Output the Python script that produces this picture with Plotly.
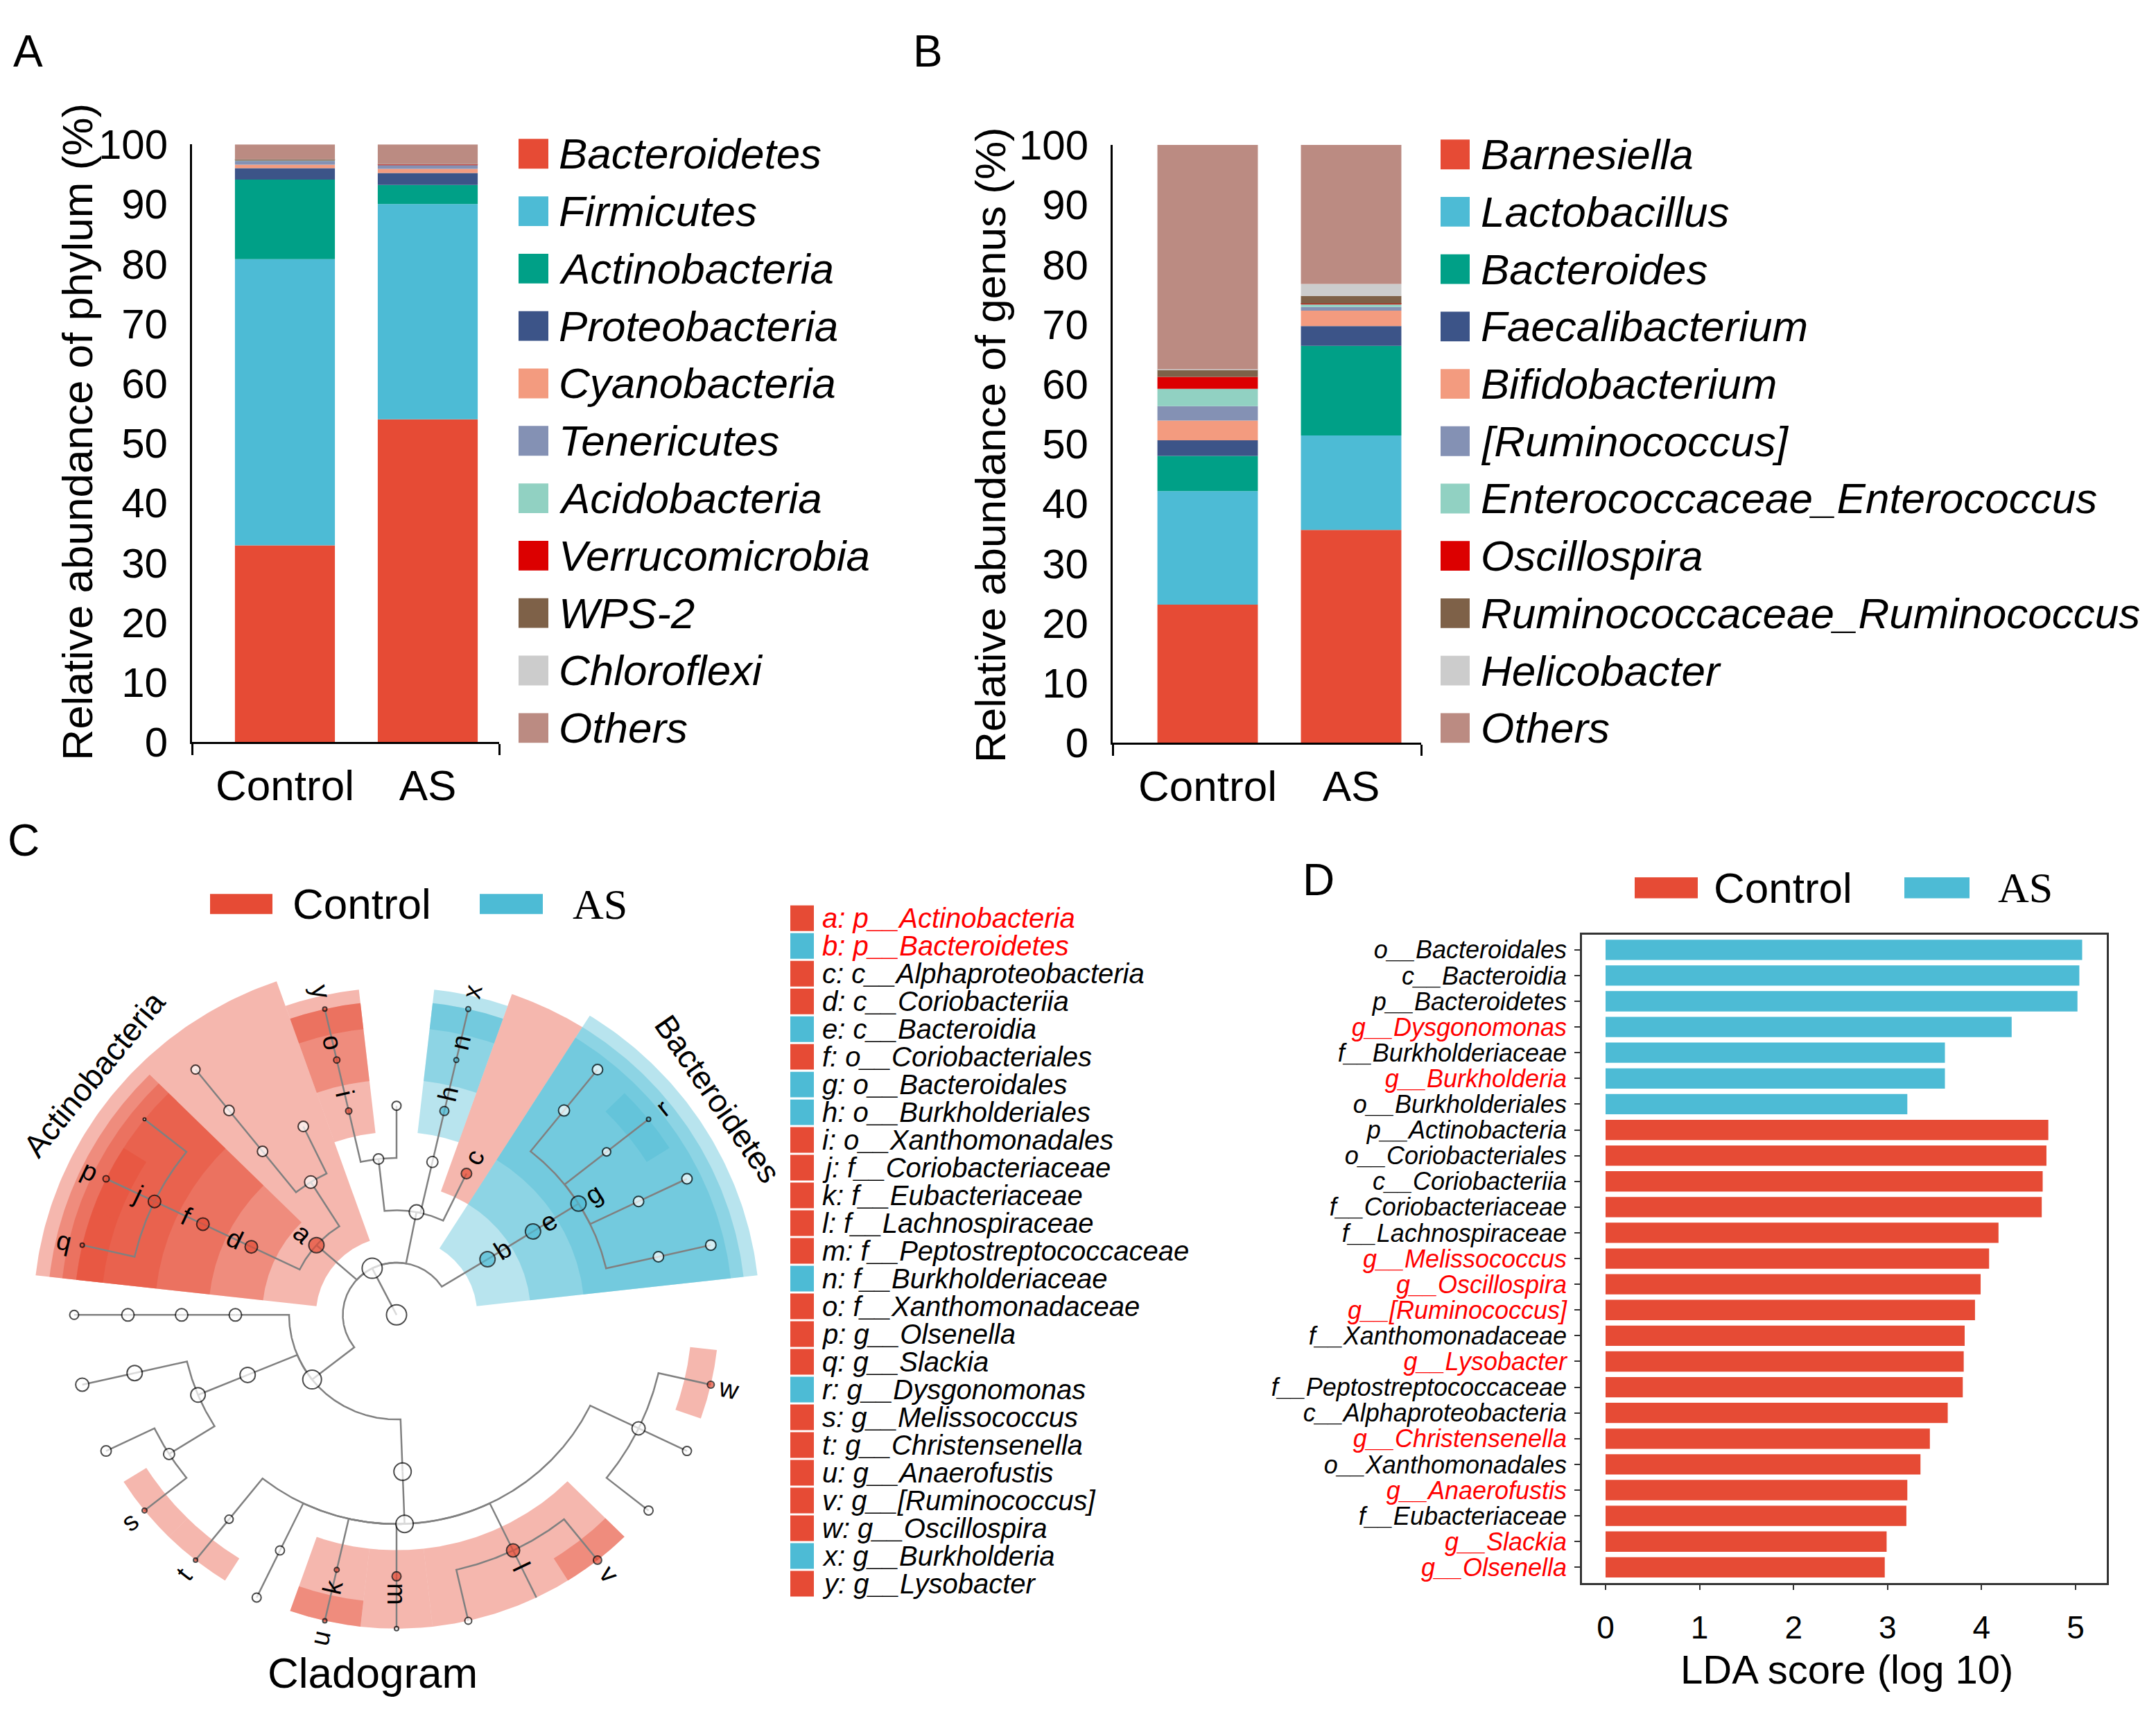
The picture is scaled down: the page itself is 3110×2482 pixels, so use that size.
import numpy as np
import plotly.graph_objects as go

W, H = 3110, 2482
SANS = "Liberation Sans, Arial, sans-serif"
SERIF = "Liberation Serif, Times New Roman, serif"
RED = "#E64B35"
BLUE = "#4DBBD5"
LABEL_RED = "#FF0000"

# ---------------- Panel A / B data ----------------
samples = ["Control", "AS"]
taxa_colors = ["#E64B35", "#4DBBD5", "#00A087", "#3C5488", "#F39B7F", "#8491B4",
               "#91D1C2", "#DC0000", "#7E6148", "#CCCCCC", "#BB8B82"]

phylum_names = ["Bacteroidetes", "Firmicutes", "Actinobacteria", "Proteobacteria", "Cyanobacteria",
                "Tenericutes", "Acidobacteria", "Verrucomicrobia", "WPS-2", "Chloroflexi", "Others"]
phylum_control = [32.9, 47.9, 13.3, 1.9, 0.6, 0.7, 0.05, 0.05, 0.05, 0.05, 2.5]
phylum_as = [54.0, 36.0, 3.2, 2.0, 0.7, 0.65, 0.05, 0.05, 0.05, 0.05, 3.25]

genus_names = ["Barnesiella", "Lactobacillus", "Bacteroides", "Faecalibacterium", "Bifidobacterium",
               "[Ruminococcus]", "Enterococcaceae_Enterococcus", "Oscillospira",
               "Ruminococcaceae_Ruminococcus", "Helicobacter", "Others"]
genus_control = [23.1, 19.0, 5.9, 2.6, 3.3, 2.4, 2.9, 2.0, 1.2, 0.1, 37.5]
genus_as = [35.6, 15.8, 15.0, 3.3, 2.6, 0.6, 0.5, 0.05, 1.3, 2.0, 23.25]

# ---------------- Panel D data ----------------
lda_taxa = ["o__Bacteroidales", "c__Bacteroidia", "p__Bacteroidetes", "g__Dysgonomonas",
            "f__Burkholderiaceae", "g__Burkholderia", "o__Burkholderiales", "p__Actinobacteria",
            "o__Coriobacteriales", "c__Coriobacteriia", "f__Coriobacteriaceae", "f__Lachnospiraceae",
            "g__Melissococcus", "g__Oscillospira", "g__[Ruminococcus]", "f__Xanthomonadaceae",
            "g__Lysobacter", "f__Peptostreptococcaceae", "c__Alphaproteobacteria", "g__Christensenella",
            "o__Xanthomonadales", "g__Anaerofustis", "f__Eubacteriaceae", "g__Slackia", "g__Olsenella"]
lda_score = [5.07, 5.04, 5.02, 4.32, 3.61, 3.61, 3.21, 4.71, 4.69, 4.65, 4.64, 4.18, 4.08, 3.99,
             3.93, 3.82, 3.81, 3.80, 3.64, 3.45, 3.35, 3.21, 3.20, 2.99, 2.97]
lda_group = ["AS"] * 7 + ["Control"] * 18
lda_ticks = [0, 1, 2, 3, 4, 5]

# ---------------- Panel C data (cladogram) ----------------
clado_node = ["Root", "Bacteria",
              "p__Bacteroidetes", "c__Bacteroidia", "o__Bacteroidales",
              "f__Bd1", "g__Bd1", "f__Bd2", "g__Bd2", "f__Bd3", "g__Dysgonomonas", "f__Bd4", "g__Bd4",
              "p__Proteobacteria", "c__Alphaproteobacteria", "c__Betaproteobacteria", "o__Burkholderiales",
              "f__Burkholderiaceae", "g__Burkholderia",
              "c__Gammaproteobacteria", "o__Gp1", "o__Xanthomonadales", "f__Xanthomonadaceae", "g__Lysobacter",
              "p__Actinobacteria", "c__Actinobacteria", "o__Ac1", "o__Actinomycetales", "f__Ac2", "g__Ac2",
              "c__Coriobacteriia", "o__Coriobacteriales", "f__Coriobacteriaceae", "g__Co1", "g__Olsenella", "g__Slackia",
              "p__Firmicutes", "c__Erysipelotrichi", "o__Erysipelotrichales", "f__Erysipelotrichaceae", "g__Er1",
              "c__Bacilli", "o__Lactobacillales", "f__Lactobacillaceae", "g__Lactobacillus",
              "f__Enterococcaceae", "g__Enterococcus", "g__Melissococcus",
              "c__Clostridia", "o__Clostridiales", "f__Christensenellaceae", "g__Christensenella", "f__Cl2", "g__Cl2",
              "f__Eubacteriaceae", "g__Anaerofustis", "f__Peptostreptococcaceae", "g__Pe1",
              "f__Lachnospiraceae", "g__La1", "g__La2", "g__[Ruminococcus]",
              "f__Ruminococcaceae", "g__Ru1", "g__Ru2", "g__Oscillospira"]
clado_parent = ["", "Root",
                "Bacteria", "p__Bacteroidetes", "c__Bacteroidia",
                "o__Bacteroidales", "f__Bd1", "o__Bacteroidales", "f__Bd2", "o__Bacteroidales", "f__Bd3",
                "o__Bacteroidales", "f__Bd4",
                "Bacteria", "p__Proteobacteria", "p__Proteobacteria", "c__Betaproteobacteria",
                "o__Burkholderiales", "f__Burkholderiaceae",
                "p__Proteobacteria", "c__Gammaproteobacteria", "c__Gammaproteobacteria", "o__Xanthomonadales",
                "f__Xanthomonadaceae",
                "Bacteria", "p__Actinobacteria", "c__Actinobacteria", "c__Actinobacteria", "o__Actinomycetales",
                "f__Ac2",
                "p__Actinobacteria", "c__Coriobacteriia", "o__Coriobacteriales", "f__Coriobacteriaceae",
                "f__Coriobacteriaceae", "f__Coriobacteriaceae",
                "Bacteria", "p__Firmicutes", "c__Erysipelotrichi", "o__Erysipelotrichales", "f__Erysipelotrichaceae",
                "p__Firmicutes", "c__Bacilli", "o__Lactobacillales", "f__Lactobacillaceae",
                "o__Lactobacillales", "f__Enterococcaceae", "f__Enterococcaceae",
                "p__Firmicutes", "c__Clostridia", "o__Clostridiales", "f__Christensenellaceae", "o__Clostridiales",
                "f__Cl2",
                "o__Clostridiales", "f__Eubacteriaceae", "o__Clostridiales", "f__Peptostreptococcaceae",
                "o__Clostridiales", "f__Lachnospiraceae", "f__Lachnospiraceae", "f__Lachnospiraceae",
                "o__Clostridiales", "f__Ruminococcaceae", "f__Ruminococcaceae", "f__Ruminococcaceae"]
clado_abundance = [14.5, 14.5,
                   11, 11, 11,
                   7.5, 7.5, 7.5, 7.5, 6, 3, 8, 7.5,
                   10.5, 7.5, 8, 6.5, 3.5, 3.5,
                   7.5, 6.5, 4.5, 4.5, 3,
                   11, 9, 7.5, 7.5, 7.5, 6.5,
                   9, 9, 9, 2, 4.5, 3,
                   13.5, 9, 9, 9, 6.5,
                   11, 10.5, 11, 9.5, 8, 7.5, 3.5,
                   12.5, 12.5, 6, 3, 6.5, 6.5,
                   3.5, 3, 6.5, 3,
                   9.5, 5, 0, 6,
                   9.5, 6.5, 6.5, 5]

sig_letter = list("abcdefghijklmnopqrstuvwxy")
sig_taxon = ["p__Actinobacteria", "p__Bacteroidetes", "c__Alphaproteobacteria", "c__Coriobacteriia",
             "c__Bacteroidia", "o__Coriobacteriales", "o__Bacteroidales", "o__Burkholderiales",
             "o__Xanthomonadales", "f__Coriobacteriaceae", "f__Eubacteriaceae", "f__Lachnospiraceae",
             "f__Peptostreptococcaceae", "f__Burkholderiaceae", "f__Xanthomonadaceae", "g__Olsenella",
             "g__Slackia", "g__Dysgonomonas", "g__Melissococcus", "g__Christensenella", "g__Anaerofustis",
             "g__[Ruminococcus]", "g__Oscillospira", "g__Burkholderia", "g__Lysobacter"]
sig_group = ["Control", "AS", "Control", "Control", "AS", "Control", "AS", "AS", "Control", "Control",
             "Control", "Control", "Control", "AS", "Control", "Control", "Control", "AS", "Control",
             "Control", "Control", "Control", "Control", "AS", "Control"]
sig_highlight = ["a", "b"]

GROUP_COLOR = {"Control": RED, "AS": BLUE}
GROUP_FILL = {"Control": "rgba(230,75,53,0.40)", "AS": "rgba(77,187,213,0.40)"}

fig = go.Figure()


def px_x(x):
    return x / W


def px_y(y):
    return 1 - y / H


# ---------------- Panel A & B stacked bars ----------------
def stacked(names, ctrl, asv, xa, ya):
    base = np.zeros(2)
    for nm, vc, va, col in zip(names, ctrl, asv, taxa_colors):
        vals = np.array([vc, va], dtype=float)
        fig.add_trace(go.Bar(x=[0, 1], y=vals.tolist(), base=base.tolist(), width=0.70, name=nm,
                             marker=dict(color=col, line=dict(width=0)), xaxis=xa, yaxis=ya,
                             showlegend=False, hoverinfo="skip"))
        base = base + vals


stacked(phylum_names, phylum_control, phylum_as, "x", "y")
stacked(genus_names, genus_control, genus_as, "x2", "y2")

# ---------------- Panel D LDA bars ----------------
ypos = np.arange(len(lda_taxa))
for g in ["AS", "Control"]:
    sel = [i for i in range(len(lda_taxa)) if lda_group[i] == g]
    fig.add_trace(go.Bar(orientation="h", y=ypos[sel].tolist(), x=[lda_score[i] for i in sel], width=0.79,
                         marker=dict(color=GROUP_COLOR[g], line=dict(width=0)), xaxis="x4", yaxis="y4",
                         showlegend=False, hoverinfo="skip"))
lda_ticktext = []
for t in lda_taxa:
    if t.startswith("g__"):
        lda_ticktext.append("<i><span style='color:%s'>%s</span></i>" % (LABEL_RED, t))
    else:
        lda_ticktext.append("<i>%s</i>" % t)

# ---------------- Panel C cladogram ----------------
n = len(clado_node)
idx = {nm: i for i, nm in enumerate(clado_node)}
children = {i: [] for i in range(n)}
par = [None] * n
for i, p in enumerate(clado_parent):
    if p:
        par[i] = idx[p]
        children[idx[p]].append(i)
LEVEL_OF = {"p": 2, "c": 3, "o": 4, "f": 5, "g": 6}
level = []
for nm in clado_node:
    if nm == "Root":
        level.append(0)
    elif nm == "Bacteria":
        level.append(1)
    else:
        level.append(LEVEL_OF[nm[0]])
leaves = [i for i in range(n) if not children[i]]
N_SLOTS = len(leaves) + 1
slot_deg = 360.0 / N_SLOTS
slot = {leaf: k + 1 for k, leaf in enumerate(leaves)}
ang = [None] * n


def calc_ang(i):
    if i in slot:
        ang[i] = slot[i] * slot_deg
    else:
        ang[i] = float(np.mean([calc_ang(c) for c in children[i]]))
    return ang[i]


calc_ang(0)


def leaf_range(i):
    if i in slot:
        return ang[i], ang[i]
    rs = [leaf_range(c) for c in children[i]]
    return min(r[0] for r in rs), max(r[1] for r in rs)


def pxy(r, th):
    t = np.deg2rad(np.asarray(th, dtype=float))
    return (np.asarray(r, dtype=float) * np.cos(t)), (np.asarray(r, dtype=float) * np.sin(t))


# outer radius of highlighted sector by level (in level units)
OUTER = {2: 6.76, 3: 6.50, 4: 6.26, 5: 6.00, 6: 6.00}
for tx, grp in zip(sig_taxon, sig_group):
    i = idx[tx]
    lo, hi = leaf_range(i)
    t0, t1 = lo - slot_deg / 2, hi + slot_deg / 2
    r0, r1 = level[i] - 0.5, OUTER[level[i]]
    ts = np.linspace(t0, t1, 80)
    xo, yo = pxy(np.full_like(ts, r1), ts)
    xi, yi = pxy(np.full_like(ts, r0), ts[::-1])
    xs = np.concatenate([xo, xi, xo[:1]])
    ys = np.concatenate([yo, yi, yo[:1]])
    fig.add_trace(go.Scatter(x=xs, y=ys, mode="lines", fill="toself", fillcolor=GROUP_FILL[grp],
                             line=dict(width=0), xaxis="x3", yaxis="y3", showlegend=False, hoverinfo="skip"))

ex, ey = [], []
for i in range(n):
    p = par[i]
    if p is None:
        continue
    rc, rp = level[i], level[p]
    x1, y1 = pxy([rc, rp], [ang[i], ang[i]])
    ex += list(x1)
    ey += list(y1)
    if rp > 0:
        npts = int(abs(ang[p] - ang[i]) * 2) + 2
        ts = np.linspace(ang[i], ang[p], npts)
        x2, y2 = pxy(np.full_like(ts, rp), ts)
        ex += list(x2)
        ey += list(y2)
    ex.append(None)
    ey.append(None)
fig.add_trace(go.Scatter(x=ex, y=ey, mode="lines", line=dict(color="#808080", width=2.5),
                         xaxis="x3", yaxis="y3", showlegend=False, hoverinfo="skip"))

sig_map = {tx: (lt, g) for lt, tx, g in zip(sig_letter, sig_taxon, sig_group)}
nx, ny, ns, nc = [], [], [], []
for i in range(n):
    if clado_abundance[i] <= 0:
        continue
    xx, yy = pxy(level[i], ang[i])
    nx.append(float(xx))
    ny.append(float(yy))
    ns.append(2 * clado_abundance[i])
    nc.append(GROUP_COLOR[sig_map[clado_node[i]][1]] if clado_node[i] in sig_map else "white")
fig.add_trace(go.Scatter(x=nx, y=ny, mode="markers",
                         marker=dict(size=ns, color=nc, line=dict(color="black", width=2)),
                         xaxis="x3", yaxis="y3", showlegend=False, hoverinfo="skip"))

annotations = []


def letter_rot(th):
    th = th % 360
    if th <= 90:
        return th
    if th < 270:
        return th - 180
    return th - 360


for tx, (lt, g) in sig_map.items():
    i = idx[tx]
    xx, yy = pxy(level[i] + 0.34, ang[i])
    annotations.append(dict(x=float(xx), y=float(yy), xref="x3", yref="y3", text=lt, showarrow=False,
                            font=dict(family=SANS, size=38, color="black"), textangle=-letter_rot(ang[i]),
                            xanchor="center", yanchor="middle"))
    if level[i] == 2:
        la = ang[i] + 2.5
        xx, yy = pxy(7.27, la)
        annotations.append(dict(x=float(xx), y=float(yy), xref="x3", yref="y3", text=tx[3:], showarrow=False,
                                font=dict(family=SANS, size=46, color="black"), textangle=90 - la,
                                xanchor="center", yanchor="middle"))

# ---------------- legends (overlay axis in pixel units) ----------------
def swatches(x0, widths, ycs, heights, colors):
    fig.add_trace(go.Bar(orientation="h", base=x0, x=widths, y=ycs, width=heights,
                         marker=dict(color=colors, line=dict(width=0)), xaxis="x5", yaxis="y5",
                         showlegend=False, hoverinfo="skip"))


def vlegend(names, colors, sw_left, sw_w, sw_h, y_first, y_step, text_x, size, italic=True, text_colors=None):
    ycs = [y_first + k * y_step for k in range(len(names))]
    swatches([sw_left] * len(names), [sw_w] * len(names), ycs, [sw_h] * len(names), colors)
    for k, nm in enumerate(names):
        tc = text_colors[k] if text_colors else "black"
        annotations.append(dict(x=text_x, y=ycs[k], xref="x5", yref="y5", text=("<i>%s</i>" % nm) if italic else nm,
                                showarrow=False, xanchor="left", yanchor="middle",
                                font=dict(family=SANS, size=size, color=tc)))


vlegend(phylum_names, taxa_colors, 748, 43, 44, 194, 85.1, 804, 62)
vlegend(genus_names, taxa_colors, 2078, 42, 44, 195, 85.0, 2134, 62)
clado_leg_names = ["%s: %s" % (lt, tx) for lt, tx in zip(sig_letter, sig_taxon)]
clado_leg_tc = [LABEL_RED if lt in sig_highlight else "black" for lt in sig_letter]
vlegend(clado_leg_names, [GROUP_COLOR[g] for g in sig_group], 1140, 34, 38, 1327, 41.1, 1184, 40,
        text_colors=clado_leg_tc)

groups_order = ["Control", "AS"]


def hlegend(sw_lefts, sw_ws, yc, sw_h, text_xs):
    swatches(sw_lefts, sw_ws, [yc] * len(groups_order), [sw_h] * len(groups_order),
             [GROUP_COLOR[g] for g in groups_order])
    for g, tx in zip(groups_order, text_xs):
        annotations.append(dict(x=tx, y=yc, xref="x5", yref="y5", text=g, showarrow=False,
                                xanchor="left", yanchor="middle",
                                font=dict(family=SANS if g == "Control" else SERIF, size=62, color="black")))


hlegend([303, 692], [90, 91], 1306, 30, [420, 824])
hlegend([2358, 2747], [91, 94], 1282, 31, [2470, 2880])

# ---------------- text ----------------
for lab, x, y in [("A", 40, 42), ("B", 1338, 42), ("C", 34, 1212), ("D", 1902, 1270)]:
    annotations.append(dict(x=px_x(x), y=px_y(y), xref="paper", yref="paper", text=lab, showarrow=False,
                            xanchor="center", yanchor="middle", font=dict(family=SANS, size=64, color="black")))
annotations.append(dict(x=px_x(112), y=px_y(606), xref="paper", yref="paper",
                        text="Relative abundance of phylum (%)", textangle=-90, showarrow=False,
                        xanchor="center", yanchor="middle",
                        font=dict(family=SANS, size=62, color="black")))
annotations.append(dict(x=px_x(1428), y=px_y(626), xref="paper", yref="paper",
                        text="Relative abundance of genus (%)", textangle=-90, showarrow=False,
                        xanchor="center", yanchor="middle",
                        font=dict(family=SANS, size=62, color="black")))
annotations.append(dict(x=px_x(2664), y=px_y(2440), xref="paper", yref="paper",
                        text="LDA score (log 10)", showarrow=False, xanchor="center", yanchor="middle",
                        font=dict(family=SANS, size=58, color="black")))
annotations.append(dict(x=px_x(537), y=px_y(2446), xref="paper", yref="paper",
                        text="Cladogram", showarrow=False, xanchor="center", yanchor="middle",
                        font=dict(family=SANS, size=62, color="black")))


def bar_xaxis(d0, d1, c0, step, anchor):
    r0, r1 = (d0 - c0) / step, (d1 - c0) / step
    return dict(domain=[px_x(d0), px_x(d1)], range=[r0, r1], tickvals=[0, 1], ticktext=samples, ticks="",
                showline=True, linecolor="black", linewidth=3, showgrid=False, zeroline=False,
                tickfont=dict(family=SANS, size=62, color="black"), ticklabelstandoff=6,
                minor=dict(tickmode="array", tickvals=[r0, r1], ticks="outside", ticklen=16, tickwidth=3,
                           tickcolor="black", showgrid=False),
                anchor=anchor, fixedrange=True)


def bar_yaxis(top, bottom, anchor):
    return dict(domain=[px_y(bottom), px_y(top)], range=[0, 100], tickvals=list(range(0, 101, 10)), ticks="",
                showline=True, linecolor="black", linewidth=3, showgrid=False, zeroline=False,
                tickfont=dict(family=SANS, size=60, color="black"), ticklabelstandoff=20,
                anchor=anchor, fixedrange=True)


CX, CY, UNIT = 572, 1915, 77.5
C_L, C_R, C_T, C_B = 0, 1150, 1330, 2482
D_L, D_R, D_T, D_B = 2282, 3039, 1351, 2312
D_X0, D_UNIT = 2316, 135.6

fig.update_layout(
    width=W, height=H, margin=dict(l=0, r=0, t=0, b=0),
    paper_bgcolor="white", plot_bgcolor="rgba(0,0,0,0)", barmode="overlay", showlegend=False,
    xaxis=bar_xaxis(277, 720, 411, 206, "y"),
    yaxis=bar_yaxis(180, 1066, "x"),
    xaxis2=bar_xaxis(1605, 2050, 1742, 207, "y2"),
    yaxis2=bar_yaxis(181, 1067, "x2"),
    xaxis3=dict(domain=[px_x(C_L), px_x(C_R)], range=[(C_L - CX) / UNIT, (C_R - CX) / UNIT],
                visible=False, anchor="y3", fixedrange=True),
    yaxis3=dict(domain=[px_y(C_B), px_y(C_T)], range=[(CY - C_B) / UNIT, (CY - C_T) / UNIT],
                visible=False, anchor="x3", fixedrange=True),
    xaxis4=dict(domain=[px_x(D_L), px_x(D_R)], range=[(D_L - D_X0) / D_UNIT, (D_R - D_X0) / D_UNIT],
                tickvals=lda_ticks, ticks="outside", ticklen=8, tickwidth=2, tickcolor="#333333",
                showline=True, mirror=True, linecolor="#333333", linewidth=2.5, showgrid=False, zeroline=False,
                tickfont=dict(family=SANS, size=46, color="black"), ticklabelstandoff=14,
                anchor="y4", fixedrange=True),
    yaxis4=dict(domain=[px_y(D_B), px_y(D_T)], range=[24.6, -0.6], tickvals=ypos.tolist(),
                ticktext=lda_ticktext, ticks="outside", ticklen=8, tickwidth=2, tickcolor="#333333",
                showline=True, mirror=True, linecolor="#333333", linewidth=2.5, showgrid=False, zeroline=False,
                tickfont=dict(family=SANS, size=36, color="black"), ticklabelstandoff=4,
                anchor="x4", fixedrange=True),
    xaxis5=dict(domain=[0, 1], range=[0, W], visible=False, anchor="y5", fixedrange=True),
    yaxis5=dict(domain=[0, 1], range=[H, 0], visible=False, anchor="x5", fixedrange=True),
    annotations=annotations,
)

fig.write_html("out.html", config={"displayModeBar": False},
               post_script="document.body.style.margin='0px';document.body.style.overflow='hidden';")
